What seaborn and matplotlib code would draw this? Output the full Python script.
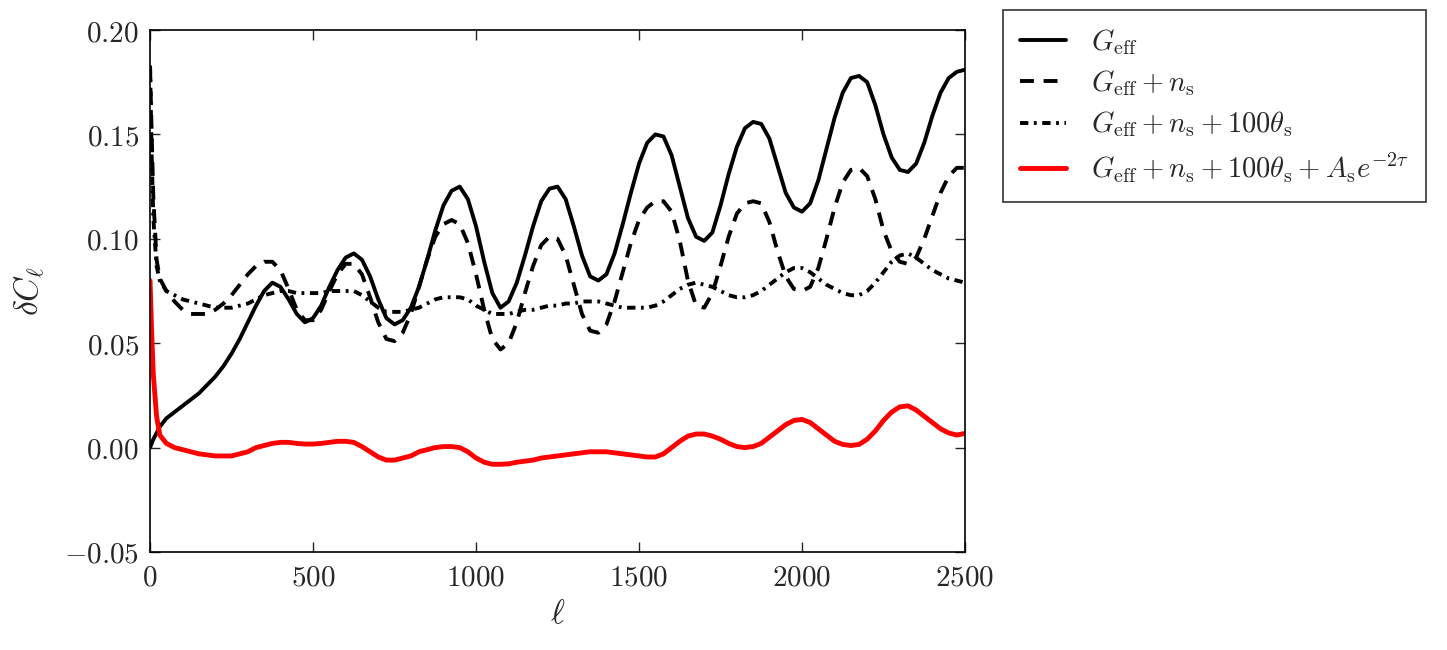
import numpy as np
import pandas as pd
import matplotlib
matplotlib.use("Agg")
import matplotlib.pyplot as plt
import seaborn as sns

# multipole grid (dense at low ell where curves drop fast)
ell = np.concatenate([[0, 5, 10, 20, 30, 50], np.arange(75, 2501, 25)])

# G_eff
g_eff = [0.000, 0.002, 0.004, 0.007, 0.010, 0.014,
         0.017,
         0.020, 0.023, 0.026, 0.030,
         0.034, 0.039, 0.045, 0.052,
         0.060, 0.068, 0.075, 0.079,
         0.077, 0.071, 0.064, 0.060,
         0.062, 0.068, 0.077, 0.085,
         0.091, 0.093, 0.090, 0.082,
         0.071, 0.062, 0.059, 0.061,
         0.067, 0.077, 0.090, 0.104,
         0.116, 0.123, 0.125, 0.119,
         0.106, 0.089, 0.074, 0.067,
         0.070, 0.079, 0.092, 0.106,
         0.118, 0.124, 0.125, 0.119,
         0.106, 0.092, 0.082, 0.080,
         0.083, 0.093, 0.107, 0.122,
         0.136, 0.146, 0.150, 0.149,
         0.140, 0.125, 0.110, 0.101,
         0.099, 0.103, 0.116, 0.131,
         0.144, 0.153, 0.156, 0.155,
         0.148, 0.135, 0.122, 0.115,
         0.113, 0.117, 0.128, 0.143,
         0.158, 0.170, 0.177, 0.178,
         0.175, 0.164, 0.150, 0.139,
         0.133, 0.132, 0.136, 0.146,
         0.159, 0.170, 0.177, 0.180,
         0.181]

# G_eff + n_s
g_ns = [0.182, 0.150, 0.120, 0.090, 0.081, 0.075,
        0.070,
        0.066, 0.064, 0.064, 0.064,
        0.066, 0.069, 0.073, 0.078,
        0.083, 0.087, 0.089, 0.089,
        0.085, 0.076, 0.066, 0.061,
        0.061, 0.066, 0.075, 0.083,
        0.088, 0.088, 0.083, 0.072,
        0.060, 0.052, 0.051, 0.055,
        0.064, 0.077, 0.090, 0.101,
        0.107, 0.109, 0.107, 0.098,
        0.083, 0.066, 0.052, 0.047,
        0.050, 0.060, 0.074, 0.087,
        0.097, 0.101, 0.100, 0.092,
        0.078, 0.064, 0.056, 0.055,
        0.059, 0.070, 0.084, 0.098,
        0.109, 0.115, 0.118, 0.118,
        0.113, 0.099, 0.080, 0.068,
        0.067, 0.074, 0.087, 0.101,
        0.112, 0.117, 0.118, 0.117,
        0.108, 0.094, 0.082, 0.076,
        0.075, 0.077, 0.086, 0.100,
        0.115, 0.127, 0.133, 0.134,
        0.130, 0.119, 0.104, 0.094,
        0.089, 0.088, 0.091, 0.100,
        0.111, 0.122, 0.130, 0.134,
        0.134]

# G_eff + n_s + 100 theta_s
g_ns_th = [0.183, 0.140, 0.110, 0.087, 0.080, 0.075,
           0.073,
           0.071, 0.070, 0.069, 0.068,
           0.067, 0.067, 0.067, 0.068,
           0.069, 0.071, 0.073, 0.074,
           0.075, 0.075, 0.074, 0.074,
           0.074, 0.074, 0.075, 0.075,
           0.075, 0.075, 0.073, 0.070,
           0.067, 0.065, 0.065, 0.065,
           0.066, 0.067, 0.069, 0.071,
           0.072, 0.072, 0.072, 0.071,
           0.068, 0.066, 0.064, 0.064,
           0.064, 0.065, 0.066, 0.066,
           0.067, 0.068, 0.068, 0.069,
           0.069, 0.070, 0.070, 0.070,
           0.069, 0.068, 0.067, 0.067,
           0.067, 0.067, 0.068, 0.070,
           0.073, 0.076, 0.078, 0.079,
           0.078, 0.077, 0.075, 0.073,
           0.072, 0.072, 0.073, 0.075,
           0.078, 0.081, 0.084, 0.086,
           0.086, 0.084, 0.081, 0.078,
           0.076, 0.074, 0.073, 0.073,
           0.075, 0.079, 0.084, 0.089,
           0.092, 0.093, 0.091, 0.088,
           0.085, 0.083, 0.081, 0.080,
           0.079]

# G_eff + n_s + 100 theta_s + A_s e^{-2 tau}
g_all = [0.080, 0.055, 0.035, 0.015, 0.006, 0.002,
         0.000,
         -0.001, -0.002, -0.003, -0.0035,
         -0.004, -0.004, -0.004, -0.003,
         -0.002, 0.000, 0.001, 0.002,
         0.0025, 0.0025, 0.002, 0.0017,
         0.0017, 0.002, 0.0025, 0.003,
         0.003, 0.0025, 0.0005, -0.002,
         -0.0045, -0.006, -0.006, -0.005,
         -0.004, -0.002, -0.001, 0.000,
         0.0005, 0.0005, 0.000, -0.002,
         -0.005, -0.007, -0.008, -0.008,
         -0.0078, -0.007, -0.0065, -0.006,
         -0.005, -0.0045, -0.004, -0.0035,
         -0.003, -0.0025, -0.002, -0.002,
         -0.002, -0.0025, -0.003, -0.0035,
         -0.004, -0.0045, -0.0045, -0.003,
         0.000, 0.003, 0.0055, 0.0065,
         0.0065, 0.0055, 0.004, 0.002,
         0.0005, 0.000, 0.0005, 0.002,
         0.005, 0.008, 0.011, 0.013,
         0.0135, 0.012, 0.009, 0.006,
         0.003, 0.0015, 0.001, 0.0015,
         0.004, 0.008, 0.013, 0.017,
         0.0195, 0.020, 0.018, 0.015,
         0.012, 0.009, 0.007, 0.006,
         0.0068]

labels = [r"$G_{\mathrm{eff}}$",
          r"$G_{\mathrm{eff}}+n_{\mathrm{s}}$",
          r"$G_{\mathrm{eff}}+n_{\mathrm{s}}+100\theta_{\mathrm{s}}$",
          r"$G_{\mathrm{eff}}+n_{\mathrm{s}}+100\theta_{\mathrm{s}}+A_{\mathrm{s}}e^{-2\tau}$"]

x_ticks = [0, 500, 1000, 1500, 2000, 2500]
y_ticks = [-0.05, 0.00, 0.05, 0.10, 0.15, 0.20]

df = pd.DataFrame({"ell": ell, "s1": g_eff, "s2": g_ns, "s3": g_ns_th, "s4": g_all})

sns.set_style("ticks")
plt.rcParams["mathtext.fontset"] = "cm"
plt.rcParams["lines.scale_dashes"] = False
plt.rcParams["xtick.direction"] = "in"
plt.rcParams["ytick.direction"] = "in"

fig = plt.figure(figsize=(14.47, 6.5), dpi=100)
ax = fig.add_axes([0.1037, 0.1508, 0.5632, 0.8030])

styles = [("s1", "black", "-", 2.8),
          ("s2", "black", (0, (10, 7)), 2.8),
          ("s3", "black", (0, (6, 4, 2, 4)), 2.8),
          ("s4", "red", "-", 3.5)]
for (col, color, ls, lw), lab in zip(styles, labels):
    sns.lineplot(data=df, x="ell", y=col, ax=ax, color=color, linestyle=ls,
                 linewidth=lw, label=lab, sort=False, estimator=None)

ax.set_xlim(0, 2500)
ax.set_ylim(-0.05, 0.20)
ax.set_xticks(x_ticks)
ax.set_xticklabels([f"${t}$" for t in x_ticks])
ax.set_yticks(y_ticks)
ax.set_yticklabels([f"${t:.2f}$" for t in y_ticks])
ax.tick_params(axis="both", which="major", labelsize=21, length=7, width=1,
               top=True, right=True, direction="in", pad=8)
for sp in ax.spines.values():
    sp.set_linewidth(1.2)
    sp.set_color("black")

ax.set_xlabel(r"$\ell$", fontsize=24, labelpad=4)
ax.set_ylabel(r"$\delta C_\ell$", fontsize=24, labelpad=12)

leg = ax.legend(loc="upper left", bbox_to_anchor=(1.0466, 1.0383), fontsize=20.5,
                borderaxespad=0, frameon=True, fancybox=False, handlelength=1.6,
                borderpad=0.6, labelspacing=0.4, handletextpad=0.9)
leg.get_frame().set_edgecolor("black")
leg.get_frame().set_linewidth(1.2)

fig.savefig("out.png", dpi=100)
